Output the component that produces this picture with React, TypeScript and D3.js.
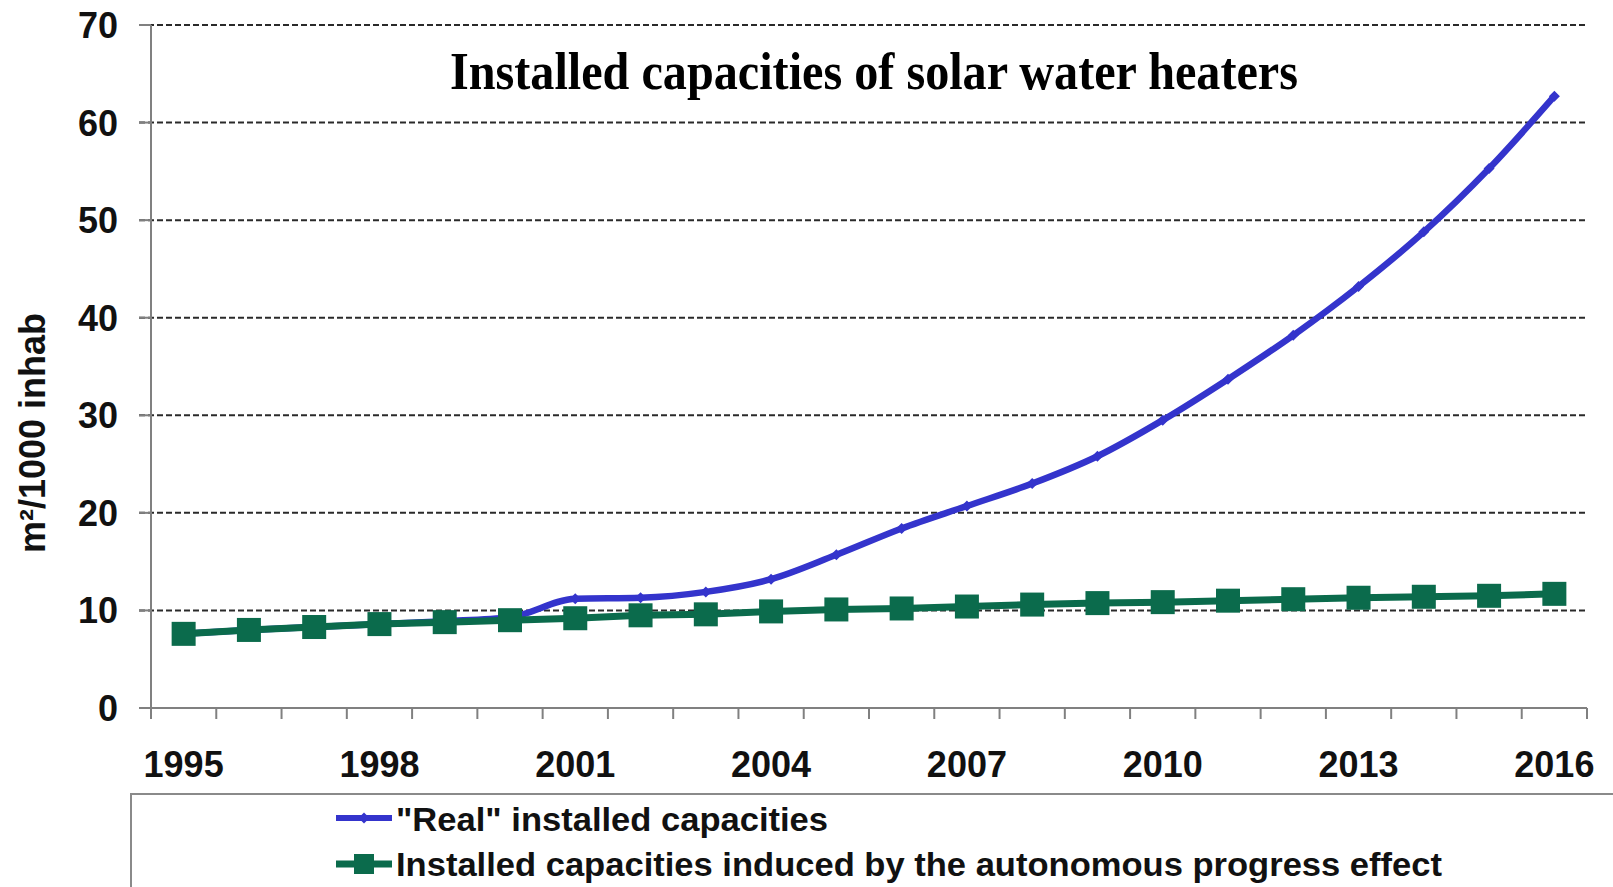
import React from "react";
import * as d3 from "d3";

const years = [1995, 1996, 1997, 1998, 1999, 2000, 2001, 2002, 2003, 2004, 2005, 2006, 2007, 2008, 2009, 2010, 2011, 2012, 2013, 2014, 2015, 2016];
const realValues = [7.6, 8.0, 8.3, 8.6, 8.9, 9.3, 11.2, 11.3, 11.9, 13.2, 15.7, 18.4, 20.7, 23.0, 25.8, 29.5, 33.7, 38.2, 43.2, 48.8, 55.3, 62.7];
const autonomousValues = [7.6, 8.0, 8.3, 8.6, 8.8, 9.0, 9.2, 9.5, 9.6, 9.9, 10.1, 10.2, 10.4, 10.6, 10.75, 10.85, 11.0, 11.15, 11.3, 11.4, 11.5, 11.7];
const yTicks = [0, 10, 20, 30, 40, 50, 60, 70];
const xLabelYears = [1995, 1998, 2001, 2004, 2007, 2010, 2013, 2016];
const titleText = "Installed capacities of solar water heaters";
const yAxisTitle = "m²/1000 inhab";
const legendLabels = ["\"Real\" installed capacities", "Installed capacities induced by the autonomous progress effect"];

const BLUE = "#3434cc";
const GREEN = "#0b6b4c";

export default function App() {
  const W = 1613, H = 887;
  const left = 151, right = 1587, top = 25, bottom = 708;
  const x = d3.scaleBand<number>().domain(years).range([left, right]).padding(0);
  const y = d3.scaleLinear().domain([0, 70]).range([bottom, top]);
  const cx = (yr: number) => (x(yr) as number) + x.bandwidth() / 2;

  const realLine = d3.line<number>().x((_, i) => cx(years[i])).y((d) => y(d)).curve(d3.curveMonotoneX);
  const autoLine = d3.line<number>().x((_, i) => cx(years[i])).y((d) => y(d));

  const boundaries = years.map((yr) => x(yr) as number).concat([right]);
  const font = "Arial, 'Liberation Sans', sans-serif";
  const sq = 24;
  const dm = 5.5;

  return (
    <svg width={W} height={H} style={{ position: "absolute", left: 0, top: 0, background: "#fff" }} xmlns="http://www.w3.org/2000/svg">
      <rect x={0} y={0} width={W} height={H} fill="#fff" />
      {yTicks.filter((t) => t > 0).map((t) => (
        <line key={"g" + t} x1={left - 12} x2={right} y1={y(t)} y2={y(t)} stroke="#2a2a2a" strokeWidth={2} strokeDasharray="6 3" />
      ))}
      <line x1={left} x2={left} y1={top} y2={bottom} stroke="#808080" strokeWidth={2} />
      {yTicks.map((t) => (
        <line key={"yt" + t} x1={left - 12} x2={left} y1={y(t)} y2={y(t)} stroke="#808080" strokeWidth={2} />
      ))}
      {yTicks.map((t) => (
        <text key={"yl" + t} x={118} y={y(t)} dy="0.36em" textAnchor="end" fontFamily={font} fontWeight="bold" fontSize={36} fill="#111">{t}</text>
      ))}
      <line x1={left - 12} x2={right} y1={bottom} y2={bottom} stroke="#808080" strokeWidth={2} />
      {boundaries.map((b, i) => (
        <line key={"xt" + i} x1={b} x2={b} y1={bottom} y2={bottom + 11} stroke="#808080" strokeWidth={2} />
      ))}
      {xLabelYears.map((yr) => (
        <text key={"xl" + yr} x={cx(yr)} y={777} textAnchor="middle" fontFamily={font} fontWeight="bold" fontSize={36} fill="#111">{yr}</text>
      ))}
      <text transform={`translate(45,433) rotate(-90)`} textAnchor="middle" fontFamily={font} fontWeight="bold" fontSize={36} fill="#111">{yAxisTitle}</text>
      <text x={874} y={89} textAnchor="middle" fontFamily="'Liberation Serif', 'Times New Roman', serif" fontWeight="bold" fontSize={52} textLength={848} lengthAdjust="spacingAndGlyphs" fill="#000">{titleText}</text>
      <path d={realLine(realValues) || ""} fill="none" stroke={BLUE} strokeWidth={6.5} strokeLinejoin="round" strokeLinecap="round" />
      {realValues.map((v, i) => (
        <path key={"rd" + i} d={`M${cx(years[i])},${y(v) - dm}L${cx(years[i]) + dm},${y(v)}L${cx(years[i])},${y(v) + dm}L${cx(years[i]) - dm},${y(v)}Z`} fill={BLUE} />
      ))}
      <path d={autoLine(autonomousValues) || ""} fill="none" stroke={GREEN} strokeWidth={7} strokeLinejoin="round" />
      {autonomousValues.map((v, i) => (
        <rect key={"gs" + i} x={cx(years[i]) - sq / 2} y={y(v) - sq / 2} width={sq} height={sq} fill={GREEN} />
      ))}
      <path d={`M131,${H + 2}L131,794L${W + 2},794`} fill="none" stroke="#8a8a8a" strokeWidth={2} />
      <line x1={336} x2={392} y1={818} y2={818} stroke={BLUE} strokeWidth={6} />
      <path d={`M364,${818 - dm}L${364 + dm},818L364,${818 + dm}L${364 - dm},818Z`} fill={BLUE} />
      <text x={396} y={831} fontFamily={font} fontWeight="bold" fontSize={34} textLength={432} lengthAdjust="spacingAndGlyphs" fill="#111">{legendLabels[0]}</text>
      <line x1={336} x2={392} y1={864} y2={864} stroke={GREEN} strokeWidth={7} />
      <rect x={364 - 10} y={864 - 10} width={20} height={20} fill={GREEN} />
      <text x={396} y={876} fontFamily={font} fontWeight="bold" fontSize={34} textLength={1046} lengthAdjust="spacingAndGlyphs" fill="#111">{legendLabels[1]}</text>
    </svg>
  );
}
